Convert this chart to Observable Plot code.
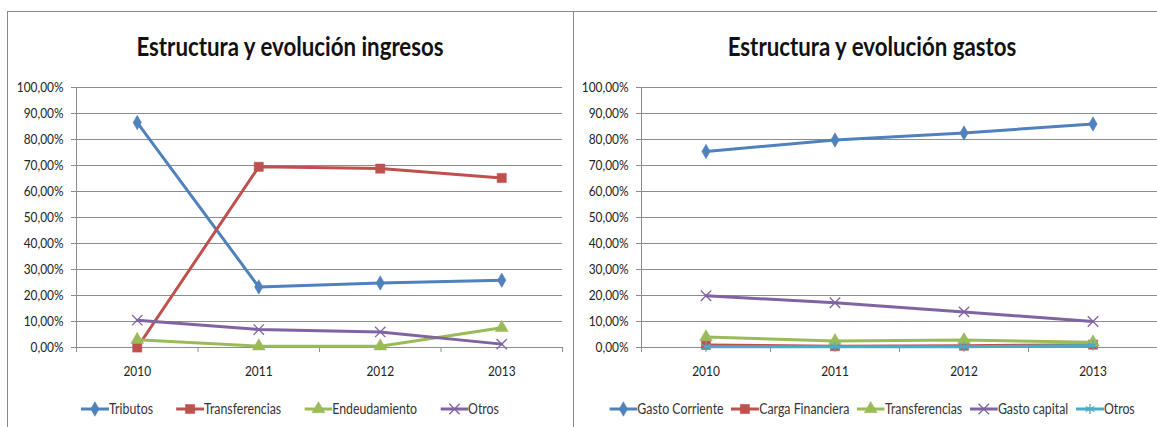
<!DOCTYPE html>
<html><head><meta charset="utf-8">
<script src="https://cdn.jsdelivr.net/npm/d3@7"></script>
<script src="https://cdn.jsdelivr.net/npm/@observablehq/plot@0.6"></script>
<style>
html,body{margin:0;padding:0;background:#fff;}
body{width:1157px;height:427px;overflow:hidden;position:relative;font-family:Lato,"Open Sans",sans-serif;color:#222;}
.frame{position:absolute;border-top:1.5px solid #8a8a8a;border-left:1.5px solid #8a8a8a;box-sizing:border-box;}
.title{position:absolute;text-align:center;font-weight:bold;font-size:26.5px;line-height:1;color:#111;white-space:nowrap;transform:scaleX(0.84);transform-origin:center;}
.chart{position:absolute;}
.legend{position:absolute;display:flex;justify-content:center;align-items:center;font-size:14.5px;line-height:1;color:#333;white-space:nowrap;transform:scaleX(0.85);transform-origin:center;}
.legend .item{display:flex;align-items:center;}
#l1 .item{margin:0 13.5px;}
#l2 .item{margin:0 4.5px;}
.legend svg{display:block;}
</style>
</head><body>
<div class="frame" style="left:7px;top:11px;width:567px;height:430px;border-right:1.5px solid #8a8a8a;"></div>
<div class="frame" style="left:573px;top:11px;width:620px;height:430px;"></div>
<div class="title" style="left:7px;width:566px;top:32.5px;">Estructura y evolución ingresos</div>
<div class="title" style="left:573px;width:598px;top:32.5px;">Estructura y evolución gastos</div>
<div id="c1" class="chart" style="left:7px;top:75px;"></div>
<div id="c2" class="chart" style="left:573px;top:75px;"></div>
<div id="l1" class="legend" style="left:7px;width:566px;top:401px;"></div>
<div id="l2" class="legend" style="left:573px;width:598px;top:401px;"></div>
<script>
// ---- data ----
const years = [2010, 2011, 2012, 2013];
const yTicks = [0, 0.1, 0.2, 0.3, 0.4, 0.5, 0.6, 0.7, 0.8, 0.9, 1.0];

// Ingresos
const ingSeries = ["Tributos", "Transferencias", "Endeudamiento", "Otros"];
const ingTributos       = [0.865, 0.233, 0.248, 0.259];
const ingTransferencias = [0.000, 0.695, 0.688, 0.652];
const ingEndeudamiento  = [0.030, 0.005, 0.005, 0.076];
const ingOtros          = [0.105, 0.069, 0.060, 0.013];

// Gastos
const gasSeries = ["Gasto Corriente", "Carga Financiera", "Transferencias", "Gasto capital", "Otros"];
const gasCorriente      = [0.754, 0.798, 0.825, 0.860];
const gasCargaFin       = [0.010, 0.005, 0.007, 0.011];
const gasTransferencias = [0.040, 0.025, 0.029, 0.020];
const gasCapital        = [0.199, 0.172, 0.137, 0.100];
const gasOtros          = [0.003, 0.003, 0.003, 0.008];

const colors = ["#4F81BD", "#C0504D", "#9BBB59", "#8064A2", "#4BACC6"];
const symbols = ["diamond", "square", "triangle", "times", "asterisk"];

function toRows(names, arrays) {
  const rows = [];
  names.forEach((n, i) => arrays[i].forEach((v, j) => rows.push({serie: n, idx: i, year: years[j], value: v})));
  return rows;
}
const ingRows = toRows(ingSeries, [ingTributos, ingTransferencias, ingEndeudamiento, ingOtros]);
const gasRows = toRows(gasSeries, [gasCorriente, gasCargaFin, gasTransferencias, gasCapital, gasOtros]);

const fmt = d => (d * 100).toFixed(2).replace(".", ",") + "%";
const bounds = [years[0] - 0.5, ...years.map(y => y + 0.5)];
const symR = {diamond: 4.4, square: 5.2, triangle: 4.8, times: 4.8, asterisk: 4.8};
const SX = 0.85;

function condense(svg) {
  svg.querySelectorAll("text").forEach(t => {
    const tr = t.getAttribute("transform") || "";
    const x = +(t.getAttribute("x") || 0);
    t.setAttribute("transform", `${tr} translate(${x},0) scale(${SX},1) translate(${-x},0)`);
  });
  return svg;
}

function makeChart(rows, names, opts) {
  const marks = [
    Plot.gridY(yTicks, {stroke: "#8c8c8c", strokeOpacity: 1, strokeWidth: 1}),
    Plot.axisY(yTicks, {tickFormat: fmt, tickSize: 5, tickPadding: 8, fontSize: 14, stroke: "#8c8c8c", color: "#222", label: null}),
    Plot.ruleX([bounds[0]], {stroke: "#8c8c8c", strokeWidth: 1}),
    Plot.axisX(bounds, {tickSize: 5, tickFormat: () => "", stroke: "#8c8c8c", label: null}),
    Plot.axisX(years, {tickSize: 0, tickPadding: 19, tickFormat: d => String(d), fontSize: 14, color: "#222", label: null})
  ];
  names.forEach((n, i) => {
    const data = rows.filter(r => r.serie === n);
    marks.push(Plot.line(data, {x: "year", y: "value", stroke: colors[i], strokeWidth: 3, curve: "linear"}));
    const s = symbols[i];
    const filled = s === "diamond" || s === "square" || s === "triangle";
    marks.push(Plot.dot(data, {
      x: "year", y: "value", symbol: () => s, r: symR[s],
      fill: filled ? colors[i] : "none",
      stroke: colors[i], strokeWidth: filled ? 0.5 : 1.3
    }));
  });
  return condense(Plot.plot({
    width: opts.width, height: 310,
    marginLeft: opts.ml, marginRight: opts.mr, marginTop: 12, marginBottom: 38,
    x: {type: "linear", domain: [bounds[0], bounds[bounds.length - 1]], axis: null, label: null},
    y: {domain: [0, 1], axis: null, label: null},
    symbol: {type: "identity"},
    style: {fontFamily: 'Lato,"Open Sans",sans-serif', background: "transparent", overflow: "visible"},
    marks
  }));
}

document.getElementById("c1").append(makeChart(ingRows, ingSeries, {width: 566, ml: 69, mr: 11}));
document.getElementById("c2").append(makeChart(gasRows, gasSeries, {width: 584, ml: 68, mr: 0}));

const symMap = {diamond: d3.symbolDiamond, square: d3.symbolSquare, triangle: d3.symbolTriangle, times: d3.symbolTimes, asterisk: d3.symbolAsterisk};
function makeLegend(id, names) {
  const el = document.getElementById(id);
  names.forEach((n, i) => {
    const item = document.createElement("div");
    item.className = "item";
    const s = symbols[i];
    const filled = s === "diamond" || s === "square" || s === "triangle";
    const size = Math.PI * symR[s] * symR[s];
    const path = d3.symbol(symMap[s], size)();
    item.innerHTML = `<svg width="33" height="16"><line x1="0" x2="33" y1="8" y2="8" stroke="${colors[i]}" stroke-width="3"/>` +
      `<path transform="translate(16.5,8) scale(${1 / SX},1)" d="${path}" fill="${filled ? colors[i] : "none"}" stroke="${colors[i]}" stroke-width="${filled ? 0.5 : 1.3}"/></svg>` +
      `<span>${n}</span>`;
    el.append(item);
  });
}
makeLegend("l1", ingSeries);
makeLegend("l2", gasSeries);
</script>
</body></html>
